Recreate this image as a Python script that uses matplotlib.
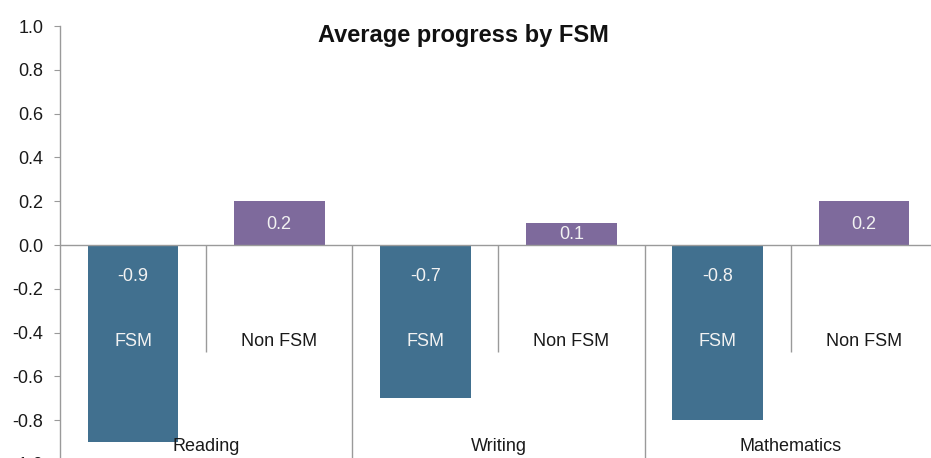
import numpy as np
import matplotlib
matplotlib.use("Agg")
import matplotlib.pyplot as plt

plt.rcParams['font.family'] = ['Liberation Sans', 'DejaVu Sans']

subjects = ['Reading', 'Writing', 'Mathematics']
fsm = [-0.9, -0.7, -0.8]
non_fsm = [0.2, 0.1, 0.2]
series_names = ['FSM', 'Non FSM']
yticks = [-1.0, -0.8, -0.6, -0.4, -0.2, 0.0, 0.2, 0.4, 0.6, 0.8, 1.0]

fsm_color = '#41708F'
non_fsm_color = '#7E6A9C'
line_color = '#9A9A9A'

fig = plt.figure(figsize=(9.31, 4.58), dpi=100)
ax = fig.add_axes([0.0644, -0.0131, 0.942, 0.9563])

x = np.arange(len(subjects))
w = 0.31
off = 0.25

ax.bar(x - off, fsm, w, color=fsm_color, zorder=2)
ax.bar(x + off, non_fsm, w, color=non_fsm_color, zorder=2)

# zero line and separators
ax.axhline(0, color=line_color, lw=1.0, zorder=3)
ax.vlines(x[:-1] + 0.5, -1.0, 0, color=line_color, lw=1.0, zorder=1)
ax.vlines(x, -0.49, 0, color=line_color, lw=1.0, zorder=1)

for i in range(len(subjects)):
  ax.text(x[i] - off, -0.145, f"{fsm[i]:.1f}", ha='center', va='center',
          color='#F2F2F2', fontsize=13, zorder=4)
  ax.text(x[i] + off, non_fsm[i] * 0.46, f"{non_fsm[i]:.1f}", ha='center', va='center',
          color='#F2F2F2', fontsize=13, zorder=4)
  ax.text(x[i] - off, -0.44, series_names[0], ha='center', va='center',
          color='#F2F2F2', fontsize=13, zorder=4)
  ax.text(x[i] + off, -0.44, series_names[1], ha='center', va='center',
          color='#1A1A1A', fontsize=13, zorder=4)
  ax.text(x[i], -0.92, subjects[i], ha='center', va='center',
          color='#1A1A1A', fontsize=13, zorder=4)

ax.set_xlim(-0.5, len(subjects) - 0.5)
ax.set_ylim(-1.0, 1.0)
ax.set_yticks(yticks)
ax.set_yticklabels([f"{v:.1f}" for v in yticks])
ax.set_xticks([])
ax.tick_params(axis='y', direction='out', length=4, width=0.8, color=line_color,
               labelsize=13, labelcolor='#1A1A1A', pad=8)

for s in ['top', 'right', 'bottom']:
  ax.spines[s].set_visible(False)
ax.spines['left'].set_color(line_color)
ax.spines['left'].set_linewidth(1.0)

fig.text(0.498, 0.923, "Average progress by FSM", ha='center', va='center',
         fontsize=17, fontweight='bold', color='#111111')

fig.savefig("out.png", dpi=100)
